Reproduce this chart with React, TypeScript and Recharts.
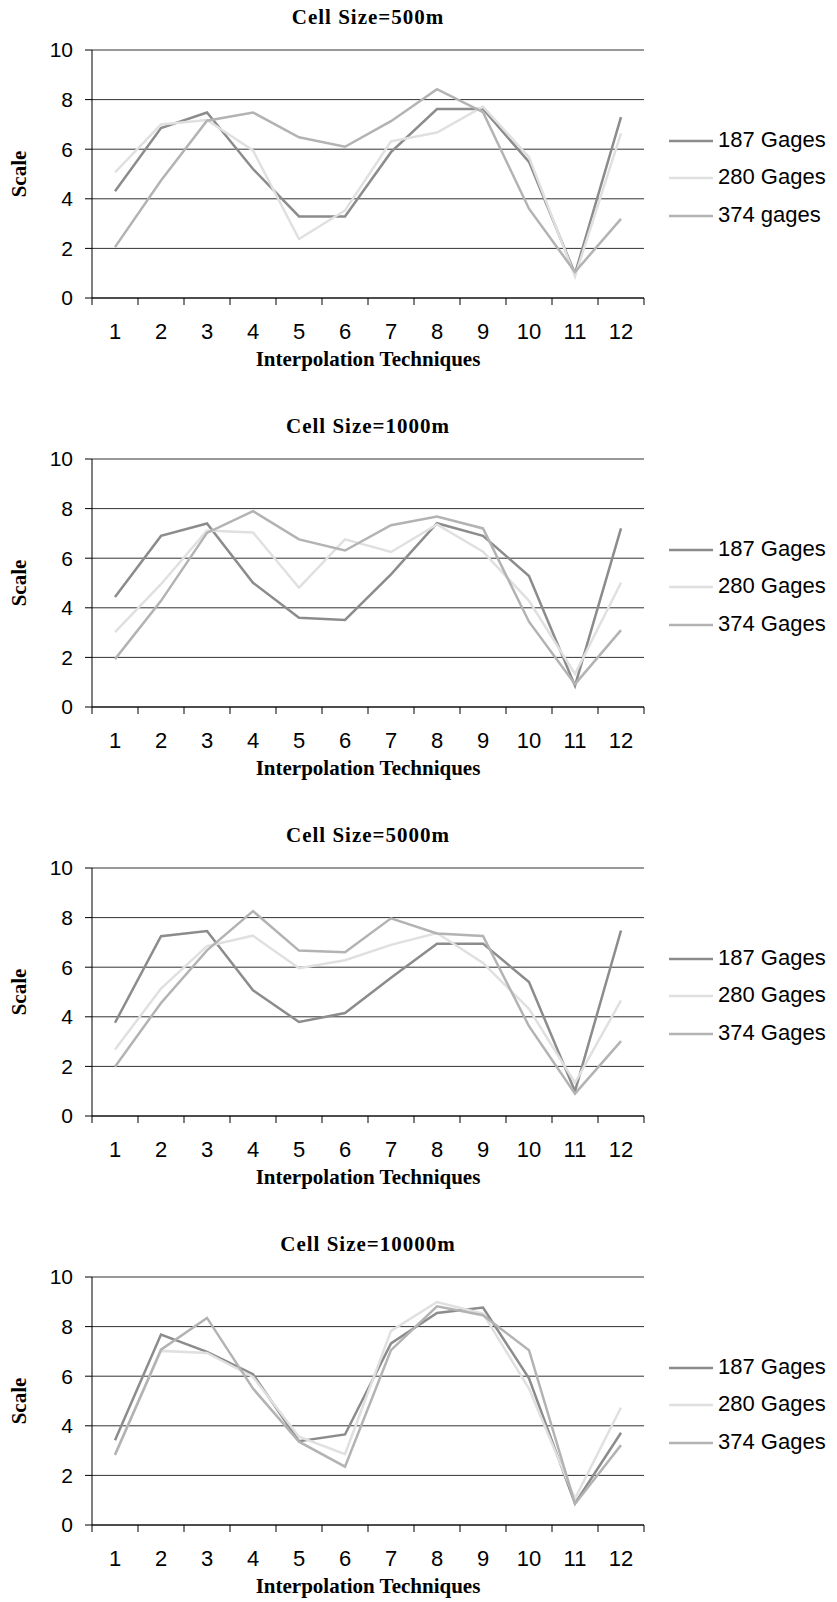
import React from 'react';
import { LineChart, Line, XAxis, YAxis, CartesianGrid } from 'recharts';

const techniques = ['1', '2', '3', '4', '5', '6', '7', '8', '9', '10', '11', '12'];
const scaleTicks = [0, 2, 4, 6, 8, 10];

// Cell size 500m
const g187_500 = [4.3, 6.85, 7.48, 5.2, 3.29, 3.29, 5.88, 7.62, 7.62, 5.49, 0.98, 7.29];
const g280_500 = [5.07, 7.0, 7.18, 5.95, 2.38, 3.53, 6.32, 6.67, 7.72, 5.68, 0.87, 6.64];
const g374_500 = [2.05, 4.74, 7.15, 7.48, 6.48, 6.1, 7.13, 8.42, 7.49, 3.6, 1.05, 3.19];

// Cell size 1000m
const g187_1000 = [4.44, 6.9, 7.4, 5.01, 3.6, 3.51, 5.35, 7.41, 6.9, 5.28, 0.86, 7.2];
const g280_1000 = [3.02, 4.95, 7.12, 7.04, 4.81, 6.76, 6.25, 7.36, 6.26, 4.28, 1.33, 5.01];
const g374_1000 = [1.93, 4.28, 7.02, 7.9, 6.76, 6.31, 7.33, 7.68, 7.2, 3.44, 0.92, 3.1];

// Cell size 5000m
const g187_5000 = [3.76, 7.25, 7.46, 5.07, 3.79, 4.15, 5.57, 6.95, 6.95, 5.4, 1.0, 7.48];
const g280_5000 = [2.68, 5.14, 6.85, 7.27, 5.96, 6.28, 6.9, 7.38, 6.17, 4.32, 1.34, 4.66];
const g374_5000 = [1.99, 4.56, 6.68, 8.26, 6.67, 6.6, 7.97, 7.36, 7.26, 3.62, 0.9, 3.02];

// Cell size 10000m
const g187_10000 = [3.42, 7.68, 6.98, 6.08, 3.38, 3.65, 7.32, 8.55, 8.77, 5.91, 0.87, 3.72];
const g280_10000 = [2.86, 7.02, 6.94, 5.97, 3.56, 2.86, 7.83, 8.99, 8.52, 5.5, 1.07, 4.74];
const g374_10000 = [2.82, 7.07, 8.35, 5.5, 3.36, 2.35, 7.05, 8.82, 8.46, 7.05, 0.85, 3.22];

const SERIF = '"Liberation Serif", "Times New Roman", serif';
const SANS = '"Liberation Sans", Arial, Helvetica, sans-serif';

const COLORS = { g187: '#8c8c8c', g280: '#e0e0e0', g374: '#b3b3b3' };

const W = 837;
const CH = 372;
const PLOT_LEFT = 92;
const PLOT_RIGHT = 644;
const PLOT_TOP = 50;
const PLOT_BOTTOM = 298;
const BAND = (PLOT_RIGHT - PLOT_LEFT) / techniques.length;

const panels = [
  { title: 'Cell Size=500m', top: 0, a: g187_500, b: g280_500, c: g374_500, last: '374 gages' },
  { title: 'Cell Size=1000m', top: 409, a: g187_1000, b: g280_1000, c: g374_1000, last: '374 Gages' },
  { title: 'Cell Size=5000m', top: 818, a: g187_5000, b: g280_5000, c: g374_5000, last: '374 Gages' },
  { title: 'Cell Size=10000m', top: 1227, a: g187_10000, b: g280_10000, c: g374_10000, last: '374 Gages' },
];

function TechniqueTick(props: any) {
  const { x, y, payload, index } = props;
  const half = BAND / 2;
  return (
    <g>
      <line x1={x - half} x2={x - half} y1={y} y2={y + 7} stroke="#000" />
      {index === techniques.length - 1 && (
        <line x1={x + half} x2={x + half} y1={y} y2={y + 7} stroke="#000" />
      )}
      <text x={x} y={y + 41} textAnchor="middle" fontSize={22} fontFamily={SANS} fill="#000">
        {payload.value}
      </text>
    </g>
  );
}

function Panel({ p }: { p: (typeof panels)[number] }) {
  const data = techniques.map((t, i) => ({ technique: t, g187: p.a[i], g280: p.b[i], g374: p.c[i] }));
  const legend = [
    { key: 'g187', label: '187 Gages' },
    { key: 'g280', label: '280 Gages' },
    { key: 'g374', label: p.last },
  ];
  const midY = (PLOT_TOP + PLOT_BOTTOM) / 2;
  const centerX = (PLOT_LEFT + PLOT_RIGHT) / 2;

  return (
    <div style={{ position: 'absolute', left: 0, top: p.top, width: W, height: CH + 30 }}>
      <div
        style={{
          position: 'absolute',
          left: centerX - 200,
          width: 400,
          top: 4,
          textAlign: 'center',
          fontFamily: SERIF,
          fontWeight: 'bold',
          fontSize: 21,
          letterSpacing: 1,
          lineHeight: '26px',
        }}
      >
        {p.title}
      </div>
      <div
        style={{
          position: 'absolute',
          left: 19 - 50,
          top: midY - 13,
          width: 100,
          textAlign: 'center',
          fontFamily: SERIF,
          fontWeight: 'bold',
          fontSize: 21,
          lineHeight: '26px',
          transform: 'rotate(-90deg)',
        }}
      >
        Scale
      </div>
      <LineChart
        width={W}
        height={CH}
        data={data}
        margin={{ top: PLOT_TOP, right: W - PLOT_RIGHT, bottom: 0, left: 0 }}
      >
        <CartesianGrid horizontal vertical={false} stroke="#333" />
        <XAxis
          dataKey="technique"
          padding={{ left: BAND / 2, right: BAND / 2 }}
          height={CH - PLOT_BOTTOM}
          axisLine={{ stroke: '#000' }}
          tickLine={false}
          tickSize={0}
          tickMargin={0}
          interval={0}
          tick={<TechniqueTick />}
        />
        <YAxis
          domain={[0, 10]}
          ticks={scaleTicks}
          width={PLOT_LEFT}
          axisLine={{ stroke: '#000' }}
          tickLine={{ stroke: '#000' }}
          tickSize={7}
          tickMargin={12}
          tick={{ fontSize: 21, fill: '#000', fontFamily: SANS }}
        />
        <YAxis
          yAxisId="border"
          orientation="right"
          domain={[0, 10]}
          width={0}
          tick={false}
          tickLine={false}
          axisLine={{ stroke: '#000' }}
        />
        <Line dataKey="g187" stroke={COLORS.g187} strokeWidth={2.5} dot={false} isAnimationActive={false} />
        <Line dataKey="g280" stroke={COLORS.g280} strokeWidth={2.5} dot={false} isAnimationActive={false} />
        <Line dataKey="g374" stroke={COLORS.g374} strokeWidth={2.5} dot={false} isAnimationActive={false} />
      </LineChart>
      <div
        style={{
          position: 'absolute',
          left: centerX - 200,
          width: 400,
          top: 346,
          textAlign: 'center',
          fontFamily: SERIF,
          fontWeight: 'bold',
          fontSize: 21,
          lineHeight: '26px',
        }}
      >
        Interpolation Techniques
      </div>
      {legend.map((item, i) => (
        <div
          key={item.key}
          style={{
            position: 'absolute',
            left: 669,
            top: 177 + (i - 1) * 37.5 - 13,
            height: 26,
            display: 'flex',
            alignItems: 'center',
            fontFamily: SANS,
            fontSize: 22,
            whiteSpace: 'nowrap',
          }}
        >
          <svg width={44} height={26} style={{ marginRight: 5 }}>
            <line x1={0} x2={44} y1={14} y2={14} stroke={(COLORS as any)[item.key]} strokeWidth={2.5} />
          </svg>
          {item.label}
        </div>
      ))}
    </div>
  );
}

export default function App() {
  return (
    <div
      style={{
        position: 'absolute',
        left: 0,
        top: 0,
        width: W,
        height: 1602,
        overflow: 'hidden',
        background: '#fff',
      }}
    >
      {panels.map((p) => (
        <Panel key={p.title} p={p} />
      ))}
    </div>
  );
}
